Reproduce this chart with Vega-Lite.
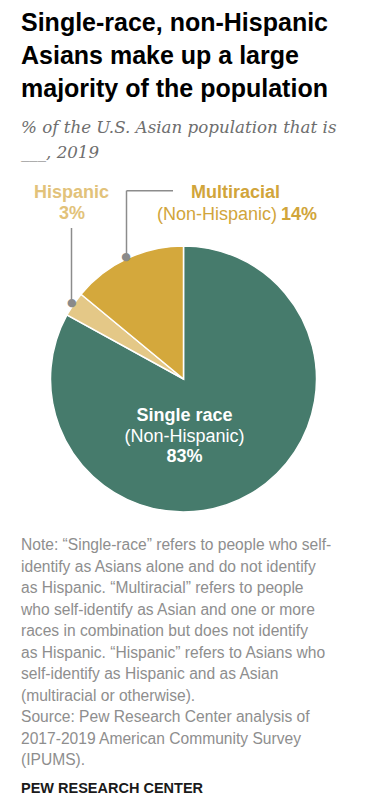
{
  "$schema": "https://vega.github.io/schema/vega-lite/v6.json",
  "autosize": "none",
  "width": 367,
  "height": 418,
  "padding": {"left": 0, "top": 170, "right": 15, "bottom": 216},
  "background": "white",
  "config": {"view": {"stroke": null}},
  "title": {
    "text": ["Single-race, non-Hispanic", "Asians make up a large", "majority of the population"],
    "subtitle": ["% of the U.S. Asian population that is", "___, 2019"],
    "anchor": "start",
    "frame": "group",
    "orient": "top",
    "dx": 21,
    "offset": 8,
    "font": "Liberation Sans",
    "fontSize": 25,
    "fontWeight": "bold",
    "lineHeight": 33,
    "color": "#000000",
    "subtitleFont": "DejaVu Serif",
    "subtitleFontStyle": "italic",
    "subtitleFontSize": 16.7,
    "subtitleLineHeight": 25,
    "subtitleColor": "#6e6e6e",
    "subtitlePadding": 18
  },
  "data": {
    "values": [
      {"category": "Single race", "value": 0.83, "order": 1},
      {"category": "Hispanic", "value": 0.03, "order": 2},
      {"category": "Multiracial", "value": 0.14, "order": 3}
    ]
  },
  "layer": [
    {
      "mark": {"type": "arc", "outerRadius": 133, "stroke": "white", "strokeWidth": 1.5},
      "encoding": {
        "theta": {"field": "value", "type": "quantitative", "stack": true},
        "order": {"field": "order", "type": "quantitative"},
        "color": {
          "field": "category",
          "type": "nominal",
          "scale": {"domain": ["Single race", "Hispanic", "Multiracial"], "range": ["#467b6c", "#e4c887", "#d4a83c"]},
          "legend": null
        }
      }
    },
    {
      "data": {"values": [{}]},
      "mark": {"type": "rule", "stroke": "#8c8c8c", "strokeWidth": 1.5},
      "encoding": {"x": {"value": 71.5}, "y": {"value": 58}, "y2": {"value": 133}}
    },
    {
      "data": {"values": [{}]},
      "mark": {"type": "rule", "stroke": "#8c8c8c", "strokeWidth": 1.5},
      "encoding": {"x": {"value": 126.5}, "y": {"value": 20.7}, "y2": {"value": 86}}
    },
    {
      "data": {"values": [{}]},
      "mark": {"type": "rule", "stroke": "#8c8c8c", "strokeWidth": 1.5},
      "encoding": {"x": {"value": 126.5}, "x2": {"value": 173}, "y": {"value": 20.7}}
    },
    {
      "mark": {"type": "text", "text": "●", "radius": 135, "fontSize": 11, "font": "DejaVu Sans", "color": "#8a8a8a", "align": "center", "baseline": "middle"},
      "encoding": {
        "theta": {"field": "value", "type": "quantitative", "stack": true},
        "order": {"field": "order", "type": "quantitative"},
        "opacity": {"condition": {"test": "datum.category === 'Single race'", "value": 0}, "value": 1}
      }
    },
    {
      "transform": [{"filter": "datum.category === 'Hispanic'"}],
      "mark": {"type": "text", "text": "Hispanic", "x": 71.5, "y": 27.7, "align": "center", "baseline": "alphabetic", "font": "Liberation Sans", "fontSize": 18, "fontWeight": "bold", "color": "#e2c27a"},
      "encoding": {}
    },
    {
      "transform": [{"filter": "datum.category === 'Hispanic'"}],
      "mark": {"type": "text", "x": 72, "y": 49, "align": "center", "baseline": "alphabetic", "font": "Liberation Sans", "fontSize": 18, "fontWeight": "bold", "color": "#e2c27a"},
      "encoding": {"text": {"field": "value", "type": "quantitative", "format": ".0%"}}
    },
    {
      "transform": [{"filter": "datum.category === 'Multiracial'"}],
      "mark": {"type": "text", "text": "Multiracial", "x": 235.5, "y": 27.7, "align": "center", "baseline": "alphabetic", "font": "Liberation Sans", "fontSize": 18, "fontWeight": "bold", "color": "#d1a53b"},
      "encoding": {}
    },
    {
      "transform": [{"filter": "datum.category === 'Multiracial'"}],
      "mark": {"type": "text", "text": "(Non-Hispanic)", "x": 277, "y": 50, "align": "right", "baseline": "alphabetic", "font": "Liberation Sans", "fontSize": 18, "color": "#d1a53b"},
      "encoding": {}
    },
    {
      "transform": [{"filter": "datum.category === 'Multiracial'"}],
      "mark": {"type": "text", "x": 281, "y": 50, "align": "left", "baseline": "alphabetic", "font": "Liberation Sans", "fontSize": 18, "fontWeight": "bold", "color": "#d1a53b"},
      "encoding": {"text": {"field": "value", "type": "quantitative", "format": ".0%"}}
    },
    {
      "transform": [{"filter": "datum.category === 'Single race'"}],
      "mark": {"type": "text", "text": "Single race", "x": 184.5, "y": 251, "align": "center", "baseline": "alphabetic", "font": "Liberation Sans", "fontSize": 18, "fontWeight": "bold", "color": "white"},
      "encoding": {}
    },
    {
      "transform": [{"filter": "datum.category === 'Single race'"}],
      "mark": {"type": "text", "text": "(Non-Hispanic)", "x": 184.5, "y": 271.7, "align": "center", "baseline": "alphabetic", "font": "Liberation Sans", "fontSize": 18, "color": "white"},
      "encoding": {}
    },
    {
      "transform": [{"filter": "datum.category === 'Single race'"}],
      "mark": {"type": "text", "x": 184.5, "y": 291.7, "align": "center", "baseline": "alphabetic", "font": "Liberation Sans", "fontSize": 18, "fontWeight": "bold", "color": "white"},
      "encoding": {"text": {"field": "value", "type": "quantitative", "format": ".0%"}}
    },
    {
      "data": {"values": [{}]},
      "mark": {
        "type": "text",
        "text": [
          "Note: “Single-race” refers to people who self-",
          "identify as Asians alone and do not identify",
          "as Hispanic. “Multiracial” refers to people",
          "who self-identify as Asian and one or more",
          "races in combination but does not identify",
          "as Hispanic. “Hispanic” refers to Asians who",
          "self-identify as Hispanic and as Asian",
          "(multiracial or otherwise).",
          "Source: Pew Research Center analysis of",
          "2017-2019 American Community Survey",
          "(IPUMS)."
        ],
        "x": 21,
        "y": 380,
        "align": "left",
        "baseline": "alphabetic",
        "lineHeight": 21.5,
        "font": "Liberation Sans",
        "fontSize": 15.6,
        "color": "#8e8e8e"
      },
      "encoding": {}
    },
    {
      "data": {"values": [{}]},
      "mark": {"type": "text", "text": "PEW RESEARCH CENTER", "x": 21, "y": 623, "align": "left", "baseline": "alphabetic", "font": "Liberation Sans", "fontSize": 14.5, "fontWeight": "bold", "color": "#1a1a1a"},
      "encoding": {}
    }
  ]
}
